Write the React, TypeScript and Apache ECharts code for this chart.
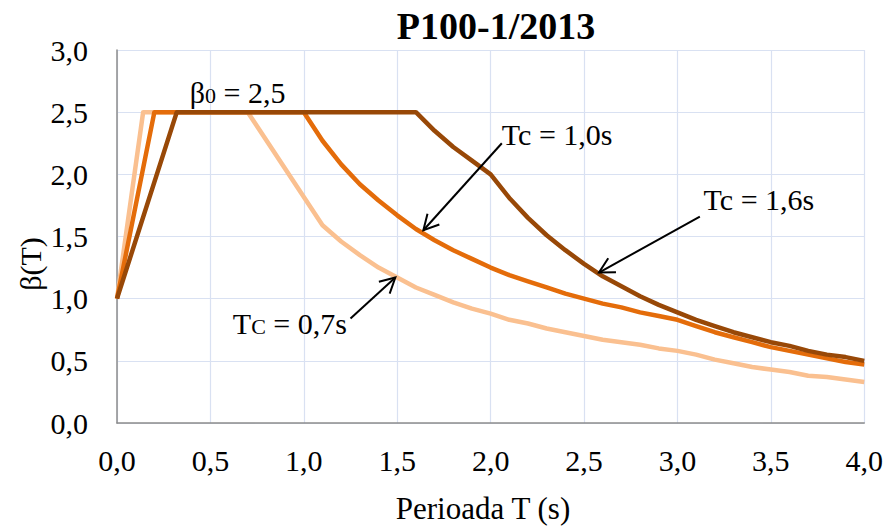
import React, { useEffect, useRef } from "react";
import * as echarts from "echarts";

// ---- data ----
const periodsTc07 = [0, 0.14, 0.7, 1.1, 1.2, 1.3, 1.4, 1.5, 1.6, 1.7, 1.8, 1.9, 2.0, 2.1, 2.2, 2.3, 2.4, 2.5, 2.6, 2.7, 2.8, 2.9, 3.0, 3.1, 3.2, 3.3, 3.4, 3.5, 3.6, 3.7, 3.8, 3.9, 4.0];
const betaTc07 = [1.0, 2.5, 2.5, 1.59, 1.46, 1.35, 1.25, 1.17, 1.09, 1.03, 0.97, 0.92, 0.88, 0.83, 0.8, 0.76, 0.73, 0.7, 0.67, 0.65, 0.63, 0.6, 0.58, 0.55, 0.51, 0.48, 0.45, 0.43, 0.41, 0.38, 0.37, 0.35, 0.33];

const periodsTc10 = [0, 0.2, 1.0, 1.1, 1.2, 1.3, 1.4, 1.5, 1.6, 1.7, 1.8, 1.9, 2.0, 2.1, 2.2, 2.3, 2.4, 2.5, 2.6, 2.7, 2.8, 2.9, 3.0, 3.1, 3.2, 3.3, 3.4, 3.5, 3.6, 3.7, 3.8, 3.9, 4.0];
const betaTc10 = [1.0, 2.5, 2.5, 2.27, 2.08, 1.92, 1.79, 1.67, 1.56, 1.47, 1.39, 1.32, 1.25, 1.19, 1.14, 1.09, 1.04, 1.0, 0.96, 0.93, 0.89, 0.86, 0.83, 0.78, 0.73, 0.69, 0.65, 0.61, 0.58, 0.55, 0.52, 0.49, 0.47];

const periodsTc16 = [0, 0.32, 1.6, 1.7, 1.8, 1.9, 2.0, 2.1, 2.2, 2.3, 2.4, 2.5, 2.6, 2.7, 2.8, 2.9, 3.0, 3.1, 3.2, 3.3, 3.4, 3.5, 3.6, 3.7, 3.8, 3.9, 4.0];
const betaTc16 = [1.0, 2.5, 2.5, 2.35, 2.22, 2.11, 2.0, 1.81, 1.65, 1.51, 1.39, 1.28, 1.18, 1.1, 1.02, 0.95, 0.89, 0.83, 0.78, 0.73, 0.69, 0.65, 0.62, 0.58, 0.55, 0.53, 0.5];

const seriesNames = ["Tc = 0,7s", "Tc = 1,0s", "Tc = 1,6s"];
const seriesColors = ["#FAC090", "#E46C0A", "#984807"];

const titleText = "P100-1/2013";
const xAxisName = "Perioada T (s)";
const yAxisName = "β(T)";

// annotations in data coordinates: text anchor, arrow tail, arrow tip
const annotationTexts = ["{t|Tc = 1,0s}", "{t|Tc = 1,6s}", "{t|T}{c|C}{t| = 0,7s}", "{t|β}{s|0}{t| = 2,5}"];
const annotationAnchors = [[2.06, 2.32], [3.14, 1.8], [0.62, 0.8], [0.39, 2.66]];
const arrowTails = [[2.06, 2.25], [3.12, 1.66], [1.25, 0.84]];
const arrowTips = [[1.64, 1.55], [2.58, 1.21], [1.49, 1.17]];

const SERIF = "Liberation Serif";

const fmt = (v: number) => v.toFixed(1).replace(".", ",");

export default function App() {
  const ref = useRef<HTMLDivElement>(null);

  useEffect(() => {
    if (!ref.current) return;
    const chart = echarts.init(ref.current, undefined, { renderer: "svg" });

    const periods = [periodsTc07, periodsTc10, periodsTc16];
    const betas = [betaTc07, betaTc10, betaTc16];

    chart.setOption({
      animation: false,
      backgroundColor: "#ffffff",
      textStyle: { fontFamily: SERIF },
      grid: { left: 117, right: 21, top: 50, bottom: 103, containLabel: false },
      xAxis: {
        type: "value",
        min: 0,
        max: 4,
        interval: 0.5,
        axisLine: { show: true, lineStyle: { color: "#8C8C8C", width: 1.5 } },
        axisTick: { show: false },
        splitLine: { show: true, lineStyle: { color: "#D9E1F2", width: 1.2 } },
        axisLabel: { formatter: fmt, fontFamily: SERIF, fontSize: 30, color: "#000", margin: 22 },
      },
      yAxis: {
        type: "value",
        min: 0,
        max: 3,
        interval: 0.5,
        axisLine: { show: true, lineStyle: { color: "#8C8C8C", width: 1.5 } },
        axisTick: { show: false },
        splitLine: { show: true, lineStyle: { color: "#D9E1F2", width: 1.2 } },
        axisLabel: { formatter: fmt, fontFamily: SERIF, fontSize: 30, color: "#000", margin: 29 },
      },
      series: periods.map((p, i) => ({
        name: seriesNames[i],
        type: "line",
        data: p.map((t, j) => [t, betas[i][j]]),
        showSymbol: false,
        symbol: "none",
        lineStyle: { color: seriesColors[i], width: 4.5, join: "round" },
        z: 2 + i,
      })),
    });

    const toPx = (pt: number[]) => chart.convertToPixel({ gridIndex: 0 }, pt) as number[];

    const graphics: any[] = [];
    graphics.push({
      type: "text",
      x: 496,
      y: 26,
      style: { text: titleText, fontFamily: SERIF, fontSize: 38, fontWeight: "bold", fill: "#000", align: "center", verticalAlign: "middle" },
    });
    graphics.push({
      type: "text",
      x: 483,
      y: 508,
      style: { text: xAxisName, fontFamily: SERIF, fontSize: 31, fill: "#000", align: "center", verticalAlign: "middle" },
    });
    graphics.push({
      type: "text",
      x: 30,
      y: 264,
      rotation: Math.PI / 2,
      style: { text: yAxisName, fontFamily: SERIF, fontSize: 30, fill: "#000", align: "center", verticalAlign: "middle" },
    });

    annotationTexts.forEach((txt, i) => {
      const [x, y] = toPx(annotationAnchors[i]);
      graphics.push({
        type: "text",
        x,
        y,
        z: 10,
        style: {
          text: txt,
          align: "left",
          verticalAlign: "middle",
          rich: {
            t: { fontFamily: SERIF, fontSize: 30, fill: "#000" },
            c: { fontFamily: SERIF, fontSize: 22, fill: "#000", padding: [6, 0, 0, 0] },
            s: { fontFamily: SERIF, fontSize: 22, fill: "#000", padding: [6, 0, 0, 0] },
          },
        },
      });
    });

    arrowTails.forEach((tail, i) => {
      const [x1, y1] = toPx(tail);
      const [x2, y2] = toPx(arrowTips[i]);
      const dx = x1 - x2;
      const dy = y1 - y2;
      const len = Math.hypot(dx, dy);
      const ux = dx / len;
      const uy = dy / len;
      const a = (28 * Math.PI) / 180;
      const hl = 17;
      const h1 = [x2 + hl * (ux * Math.cos(a) - uy * Math.sin(a)), y2 + hl * (ux * Math.sin(a) + uy * Math.cos(a))];
      const h2 = [x2 + hl * (ux * Math.cos(-a) - uy * Math.sin(-a)), y2 + hl * (ux * Math.sin(-a) + uy * Math.cos(-a))];
      graphics.push({
        type: "line",
        z: 10,
        shape: { x1, y1, x2, y2 },
        style: { stroke: "#000", lineWidth: 2 },
      });
      graphics.push({
        type: "polyline",
        z: 10,
        shape: { points: [h1, [x2, y2], h2] },
        style: { stroke: "#000", lineWidth: 2, fill: "none" },
      });
    });

    chart.setOption({ graphic: graphics });

    return () => chart.dispose();
  }, []);

  return <div ref={ref} style={{ width: 886, height: 526, position: "absolute", left: 0, top: 0 }} />;
}
